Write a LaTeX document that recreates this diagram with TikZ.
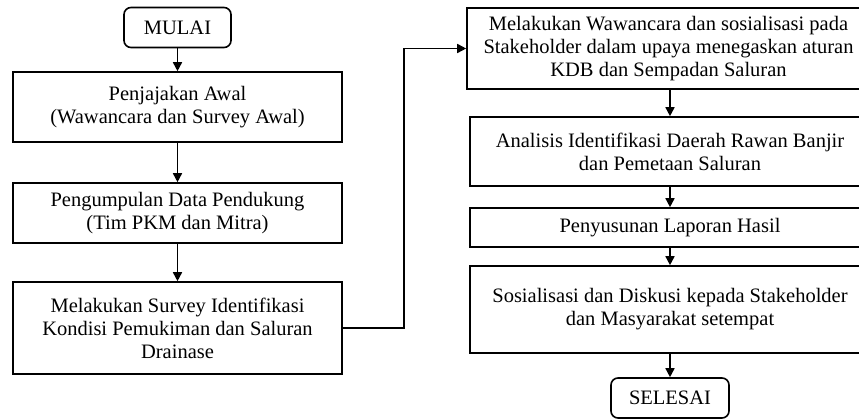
\documentclass[tikz,border=0pt]{standalone}
\usepackage{fontspec}
\setmainfont{Liberation Serif}
\usetikzlibrary{arrows.meta,calc}
\begin{document}
\begin{tikzpicture}[x=1pt,y=-1pt,
  every node/.style={font=\fontsize{20.5}{23}\selectfont, align=center, inner sep=0pt},
  stepbox/.style={draw, line width=1.6pt, rectangle},
  termbox/.style={draw, line width=1.6pt, rectangle, rounded corners=7pt},
  arr/.style={line width=1.6pt, -{Triangle[length=9pt,width=9pt]}}]
\useasboundingbox (0,0) rectangle (859,419);
\clip (0,0) rectangle (859,419);
% left column
\node[termbox, minimum width=107pt, minimum height=40pt] (start) at (177.5,27.5) {MULAI};
\node[stepbox, minimum width=329pt, minimum height=70pt] (b1) at (177.5,107) {Penjajakan Awal\\(Wawancara dan Survey Awal)};
\node[stepbox, minimum width=329pt, minimum height=60pt] (b2) at (177.5,213) {Pengumpulan Data Pendukung\\(Tim PKM dan Mitra)};
\node[stepbox, minimum width=329pt, minimum height=92pt] (b3) at (177.5,328) {Melakukan Survey Identifikasi\\Kondisi Pemukiman dan Saluran\\Drainase};
% right column
\node[stepbox, minimum width=403pt, minimum height=81pt] (r1) at (668.5,48.5) {Melakukan Wawancara dan sosialisasi pada\\Stakeholder dalam upaya menegaskan aturan\\KDB dan Sempadan Saluran};
\node[stepbox, minimum width=400pt, minimum height=69pt] (r2) at (670,151.5) {Analisis Identifikasi Daerah Rawan Banjir\\dan Pemetaan Saluran};
\node[stepbox, minimum width=400pt, minimum height=39pt] (r3) at (670,227.5) {Penyusunan Laporan Hasil};
\node[stepbox, minimum width=400pt, minimum height=87pt] (r4) at (670,309.5) {Sosialisasi dan Diskusi kepada Stakeholder\\dan Masyarakat setempat};
\node[termbox, minimum width=118pt, minimum height=40pt] (end) at (670,398) {SELESAI};
% connectors
\draw[arr] (start) -- (b1);
\draw[arr] (b1) -- (b2);
\draw[arr] (b2) -- (b3);
\coordinate (k) at (404,0);
\draw[arr] (b3.east) -- (b3.east -| k) |- (r1.west);
\draw[arr] (r1.south -| end) -- (r2.north -| end);
\draw[arr] (r2.south -| end) -- (r3.north -| end);
\draw[arr] (r3.south -| end) -- (r4.north -| end);
\draw[arr] (r4.south -| end) -- (end);
\end{tikzpicture}
\end{document}
